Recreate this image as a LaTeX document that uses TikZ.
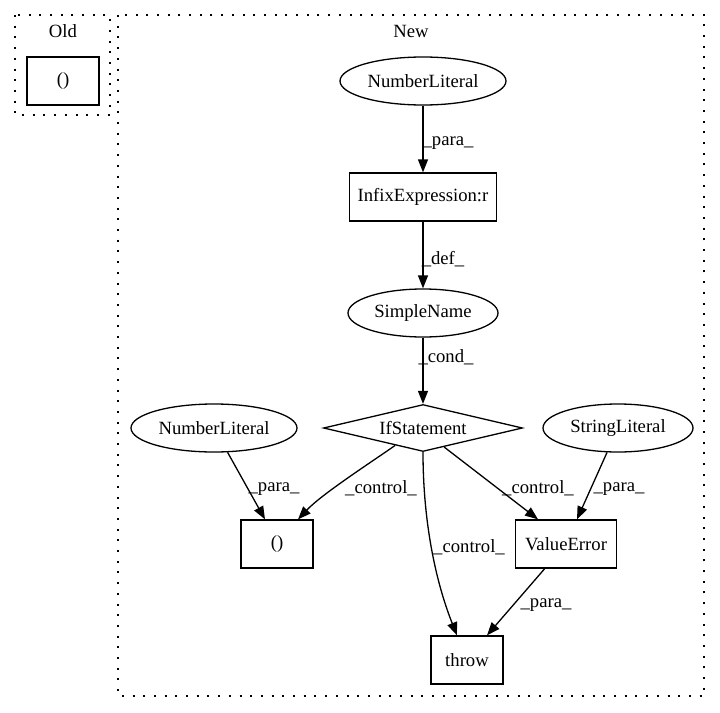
\documentclass[tikz,border=0pt]{standalone}
\usepackage{fontspec}
\setmainfont{Liberation Serif}
\usetikzlibrary{shapes.geometric,arrows.meta}
\begin{document}
\begin{tikzpicture}[x=1pt,y=-1pt,
  every node/.style={font=\fontsize{18.67}{22}\selectfont},
  box/.style={draw,line width=1.3pt,rectangle,minimum height=48pt,inner sep=0pt},
  ell/.style={draw,line width=1.3pt,ellipse,minimum height=48pt,inner sep=0pt},
  dia/.style={draw,line width=1.3pt,diamond,minimum width=199pt,minimum height=47pt,inner sep=0pt,shape aspect=4.2},
  conn/.style={draw,line width=1.3pt,-{Triangle[length=13pt,width=10pt]}},
  lbl/.style={inner sep=0pt},
  cluster/.style={draw,line width=1.3pt,dash pattern=on 2pt off 8.7pt}
]
\useasboundingbox (0,0) rectangle (720,712);
% clusters
\draw[cluster] (15,15) rectangle (110,115);
\node[lbl] (oldlbl) at (63,31) {Old};
\draw[cluster] (118,15) rectangle (704,696);
\node[lbl] (newlbl) at (411,31) {New};
% nodes
\node[box,minimum width=72pt] (oldbox) at (63,81) {()};
\node[ell,minimum width=166pt] (nl1) at (423,81) {NumberLiteral};
\node[box,minimum width=147pt] (inf) at (423,197) {InfixExpression:r};
\node[ell,minimum width=150pt] (sn) at (423,313) {SimpleName};
\node[dia] (if) at (423,428) {IfStatement};
\node[ell,minimum width=166pt] (nl2) at (214,428) {NumberLiteral};
\node[ell,minimum width=150pt] (sl) at (618,428) {StringLiteral};
\node[box,minimum width=72pt] (ob) at (277,544) {()};
\node[box,minimum width=101pt] (ve) at (566,544) {ValueError};
\node[box,minimum width=72pt] (thr) at (467,660) {throw};
% edges
\path[conn] (nl1) -- (inf) node[lbl,at={(448,143)}] {\_para\_};
\path[conn] (inf) -- (sn) node[lbl,at={(443,259)}] {\_def\_};
\path[conn] (sn) -- (if) node[lbl,at={(446,357)}] {\_cond\_};
\path[conn] (nl2) -- ([xshift=-12pt]ob.north) node[lbl,at={(274,489)}] {\_para\_};
\path[conn] (if.-148) .. controls (370,463) and (322,494) .. ([xshift=21pt]ob.north) node[lbl,at={(381,488)}] {\_control\_};
\path[conn] (if.south) .. controls (423,520) and (435,580) .. ([xshift=-10pt]thr.north) node[lbl,at={(469,547)}] {\_control\_};
\path[conn] (if.-42) -- ([xshift=-28pt]ve.north) node[lbl,at={(538,488)}] {\_control\_};
\path[conn] (sl) -- ([xshift=11pt]ve.north) node[lbl,at={(619,489)}] {\_para\_};
\path[conn] (ve) -- ([xshift=20pt]thr.north) node[lbl,at={(546,605)}] {\_para\_};
\end{tikzpicture}
\end{document}
